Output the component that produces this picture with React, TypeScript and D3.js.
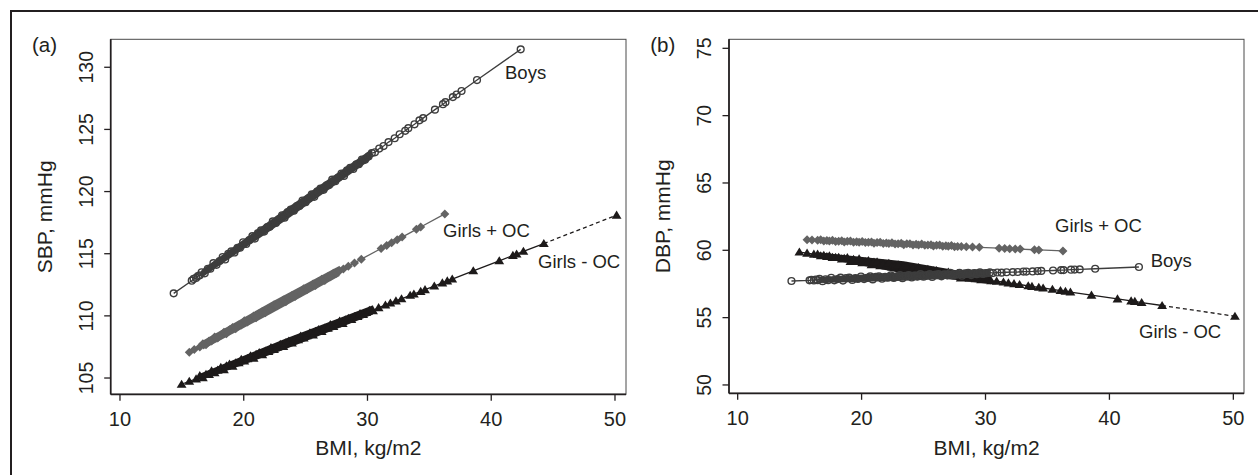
import React from 'react';
import * as d3 from 'd3';

// ---------- data ----------
const boysBMI = [
  14.34, 15.8, 15.95, 16.15, 16.3, 16.45,
  16.6, 16.85, 17.1, 17.3, 17.55, 17.8, 18.05, 18.3, 18.5, 18.75,
  19.0, 19.25, 19.5, 19.7, 19.95, 20.2, 20.45, 20.7, 20.9, 21.15,
  21.4, 21.65, 21.9, 22.1, 22.35, 22.6, 22.85, 23.1, 23.3, 23.55,
  23.8, 24.05, 24.3, 24.5, 24.75, 25.0, 25.25, 25.5, 25.7, 25.95,
  26.2, 26.45, 26.7, 26.9, 27.15, 27.4, 27.65, 27.9, 28.1, 28.35,
  28.6, 28.85, 29.1, 29.3, 29.55, 29.8, 30.1, 30.35,
  30.6, 30.95, 31.3, 31.7, 32.2, 32.6, 33.05, 33.3, 33.8, 34.2, 34.5, 35.45, 36.1, 36.3, 36.9, 37.2, 37.6, 38.85, 42.38,
];
const boysSBP = [
  111.81, 112.83, 112.97, 113.05, 113.2, 113.26,
  113.51, 113.42, 113.79, 113.8, 114.24, 114.11, 114.41, 114.73, 114.54, 114.98,
  115.19, 115.1, 115.47, 115.48, 115.92, 115.79, 116.09, 116.41, 116.22, 116.66,
  116.87, 116.78, 117.15, 117.16, 117.6, 117.47, 117.77, 118.09, 117.9, 118.34,
  118.55, 118.46, 118.83, 118.84, 119.28, 119.15, 119.45, 119.77, 119.58, 120.02,
  120.23, 120.14, 120.51, 120.52, 120.96, 120.83, 121.13, 121.45, 121.26, 121.7,
  121.91, 121.82, 122.19, 122.2, 122.58, 122.55, 122.84, 123.1,
  123.16, 123.46, 123.66, 123.98, 124.29, 124.61, 124.89, 125.1, 125.41, 125.73, 125.91, 126.59, 127.03, 127.19, 127.6, 127.81, 128.09, 128.97, 131.44,
];
const boysDBP = [
  57.72, 57.77, 57.8, 57.76, 57.83, 57.78,
  57.88, 57.71, 57.85, 57.78, 57.96, 57.77, 57.86, 57.97, 57.75, 57.93,
  57.97, 57.8, 57.94, 57.87, 58.05, 57.86, 57.95, 58.06, 57.84, 58.02,
  58.06, 57.89, 58.03, 57.96, 58.14, 57.95, 58.04, 58.15, 57.93, 58.11,
  58.15, 57.98, 58.12, 58.05, 58.23, 58.04, 58.13, 58.23, 58.02, 58.2,
  58.24, 58.07, 58.21, 58.14, 58.32, 58.13, 58.21, 58.32, 58.11, 58.29,
  58.33, 58.16, 58.3, 58.23, 58.36, 58.24, 58.31, 58.36,
  58.31, 58.35, 58.34, 58.37, 58.38, 58.39, 58.42, 58.42, 58.43, 58.46, 58.47, 58.5, 58.53, 58.53, 58.56, 58.57, 58.58, 58.63, 58.76,
];

const girlsOcBMI = [
  15.6, 16.0, 16.45,
  16.7, 16.95, 17.2, 17.4, 17.65, 17.9, 18.15, 18.4, 18.6, 18.85,
  19.1, 19.35, 19.6, 19.8, 20.05, 20.3, 20.55, 20.8, 21.0, 21.25,
  21.5, 21.75, 22.0, 22.2, 22.45, 22.7, 22.95, 23.2, 23.4, 23.65,
  23.9, 24.15, 24.4, 24.6, 24.85, 25.1, 25.35, 25.6, 25.8, 26.05,
  26.3, 26.55, 26.8, 27.0, 27.25, 27.5, 27.75,
  28.05, 28.45, 28.95, 29.5, 31.1, 31.55, 31.95, 32.4, 32.8, 33.95, 34.3, 36.25,
];
const girlsOcSBP = [
  107.07, 107.3, 107.5,
  107.76, 107.68, 107.97, 107.98, 108.3, 108.22, 108.44, 108.69, 108.56, 108.88,
  109.06, 108.97, 109.26, 109.27, 109.6, 109.51, 109.74, 109.98, 109.85, 110.17,
  110.35, 110.26, 110.56, 110.57, 110.89, 110.81, 111.03, 111.28, 111.14, 111.47,
  111.64, 111.56, 111.85, 111.86, 112.18, 112.1, 112.32, 112.57, 112.44, 112.76,
  112.94, 112.85, 113.15, 113.15, 113.43, 113.43, 113.62,
  113.78, 114.0, 114.26, 114.56, 115.42, 115.67, 115.88, 116.12, 116.34, 116.96, 117.15, 118.2,
];
const girlsOcDBP = [
  60.79, 60.77, 60.75,
  60.78, 60.69, 60.73, 60.69, 60.75, 60.66, 60.68, 60.71, 60.62, 60.68,
  60.69, 60.59, 60.63, 60.6, 60.66, 60.57, 60.59, 60.62, 60.52, 60.58,
  60.59, 60.5, 60.54, 60.5, 60.56, 60.47, 60.49, 60.52, 60.42, 60.48,
  60.49, 60.4, 60.44, 60.4, 60.46, 60.37, 60.39, 60.42, 60.32, 60.38,
  60.39, 60.3, 60.34, 60.3, 60.36, 60.27, 60.29,
  60.28, 60.26, 60.24, 60.22, 60.16, 60.14, 60.12, 60.1, 60.09, 60.04, 60.03, 59.95,
];

const girlsNoOcBMI = [
  14.98, 15.6, 16.15,
  16.45, 16.7, 16.95, 17.2, 17.4, 17.65, 17.9, 18.15, 18.4, 18.6,
  18.85, 19.1, 19.35, 19.6, 19.8, 20.05, 20.3, 20.55, 20.8, 21.0,
  21.25, 21.5, 21.75, 22.0, 22.2, 22.45, 22.7, 22.95, 23.2, 23.4,
  23.65, 23.9, 24.15, 24.4, 24.6, 24.85, 25.1, 25.35, 25.6, 25.8,
  26.05, 26.3, 26.55, 26.8, 27.0, 27.25, 27.5, 27.75, 28.0, 28.2,
  28.45, 28.7, 28.95, 29.2, 29.4, 29.65, 29.9, 30.15, 30.45,
  30.9, 31.45, 31.85, 32.3, 32.75, 33.45, 33.75, 34.3, 34.65, 35.4, 36.05, 36.45, 36.85, 38.55, 40.65, 41.75, 42.05, 42.6, 44.25, 50.13,
];
const girlsNoOcSBP = [
  104.5, 104.74, 104.93,
  105.19, 105.02, 105.3, 105.29, 105.58, 105.43, 105.63, 105.85, 105.67, 105.97,
  106.12, 105.95, 106.23, 106.22, 106.51, 106.36, 106.56, 106.78, 106.6, 106.9,
  107.04, 106.88, 107.16, 107.14, 107.44, 107.29, 107.49, 107.71, 107.53, 107.83,
  107.97, 107.81, 108.09, 108.07, 108.37, 108.22, 108.41, 108.64, 108.46, 108.76,
  108.9, 108.74, 109.02, 109.0, 109.3, 109.15, 109.34, 109.57, 109.39, 109.68,
  109.81, 109.71, 109.94, 109.94, 110.18, 110.11, 110.27, 110.45, 110.42,
  110.66, 110.87, 111.03, 111.2, 111.37, 111.65, 111.76, 111.97, 112.11, 112.4, 112.65, 112.81, 112.96, 113.62, 114.43, 114.86, 114.97, 115.19, 115.82, 118.1,
];
const girlsNoOcDBP = [
  59.87, 59.79, 59.71,
  59.71, 59.59, 59.62, 59.54, 59.59, 59.47, 59.47, 59.48, 59.36, 59.41,
  59.46, 59.17, 59.32, 59.17, 59.37, 59.08, 59.15, 59.24, 58.93, 59.12,
  59.14, 58.85, 58.99, 58.85, 59.04, 58.76, 58.82, 58.92, 58.6, 58.8,
  58.81, 58.52, 58.67, 58.52, 58.71, 58.43, 58.5, 58.59, 58.28, 58.47,
  58.49, 58.19, 58.34, 58.2, 58.39, 58.11, 58.17, 58.27, 57.95, 58.15,
  58.12, 57.93, 58.0, 57.89, 57.99, 57.82, 57.85, 57.86, 57.73,
  57.71, 57.64, 57.58, 57.52, 57.46, 57.36, 57.32, 57.25, 57.2, 57.1, 57.01, 56.96, 56.9, 56.67, 56.39, 56.24, 56.2, 56.12, 55.9, 55.1,
];

// Envelope (lower / upper edge) of the densely overplotted part of each band
const boysBandBMI = [16.6, 23.5, 30.35];
const boysBandSBPLo = [113.07, 117.76, 122.62];
const boysBandSBPHi = [113.71, 118.68, 123.42];
const boysBandDBPLo = [57.58, 57.74, 58.01];
const boysBandDBPHi = [58.02, 58.38, 58.61];
const girlsOcBandBMI = [16.7, 22.2, 27.75];
const girlsOcBandSBPLo = [107.3, 110.17, 113.2];
const girlsOcBandSBPHi = [108.02, 111.09, 114.04];
const girlsOcBandDBPLo = [60.55, 60.32, 60.1];
const girlsOcBandDBPHi = [60.93, 60.72, 60.48];
const girlsNoOcBandBMI = [16.45, 23.4, 30.45];
const girlsNoOcBandSBPLo = [104.79, 107.34, 110.1];
const girlsNoOcBandSBPHi = [105.35, 108.18, 110.86];
const girlsNoOcBandDBPLo = [59.49, 58.28, 57.47];
const girlsNoOcBandDBPHi = [59.85, 59.18, 58.07];

const xTicks = [10, 20, 30, 40, 50];
const sbpTicks = [105, 110, 115, 120, 125, 130];
const dbpTicks = [50, 55, 60, 65, 70, 75];
const seriesNames = ['Boys', 'Girls + OC', 'Girls - OC'];

// ---------- styling ----------
const W = 1258;
const H = 475;
const INK = '#231f20';
const FONT = '"Liberation Sans", Arial, Helvetica, sans-serif';
const COL_BOYS = '#3d3d3d';
const COL_OC = '#636363';
const COL_NOOC = '#1d1a1a';

type Pt = { x: number; y: number };
type Bd = { x: number; lo: number; hi: number };
const zip = (xs: number[], ys: number[]): Pt[] => xs.map((x, i) => ({ x, y: ys[i] }));
const zipBand = (xs: number[], lo: number[], hi: number[]): Bd[] =>
  xs.map((x, i) => ({ x, lo: lo[i], hi: hi[i] }));

const DIAMOND = 'M0,-4.5L4.5,0L0,4.5L-4.5,0Z';
const TRIANGLE = 'M0,-4.6L4.9,3.5L-4.9,3.5Z';

type PanelCfg = {
  tag: string;
  left: number; right: number; top: number; bottom: number;
  xDom: [number, number]; yDom: [number, number];
  yTicks: number[]; yTitle: string;
  boys: number[]; oc: number[]; noOc: number[];
  boysBand: Bd[]; ocBand: Bd[]; noOcBand: Bd[];
  labels: { text: string; dx: number; dy: number }[];
};

const panels: PanelCfg[] = [
  {
    tag: '(a)', left: 110.7, right: 626, top: 39.3, bottom: 394.3,
    xDom: [9.25, 50.89], yDom: [103.69, 132.25], yTicks: sbpTicks, yTitle: 'SBP, mmHg',
    boys: boysSBP, oc: girlsOcSBP, noOc: girlsNoOcSBP,
    boysBand: zipBand(boysBandBMI, boysBandSBPLo, boysBandSBPHi),
    ocBand: zipBand(girlsOcBandBMI, girlsOcBandSBPLo, girlsOcBandSBPHi),
    noOcBand: zipBand(girlsNoOcBandBMI, girlsNoOcBandSBPLo, girlsNoOcBandSBPHi),
    labels: [
      { text: seriesNames[0], dx: 394.3, dy: 40 },
      { text: seriesNames[1], dx: 332.3, dy: 198 },
      { text: seriesNames[2], dx: 427.3, dy: 229 },
    ],
  },
  {
    tag: '(b)', left: 729, right: 1244, top: 39.3, bottom: 393.3,
    xDom: [9.3, 50.86], yDom: [49.38, 75.67], yTicks: dbpTicks, yTitle: 'DBP, mmHg',
    boys: boysDBP, oc: girlsOcDBP, noOc: girlsNoOcDBP,
    boysBand: zipBand(boysBandBMI, boysBandDBPLo, boysBandDBPHi),
    ocBand: zipBand(girlsOcBandBMI, girlsOcBandDBPLo, girlsOcBandDBPHi),
    noOcBand: zipBand(girlsNoOcBandBMI, girlsNoOcBandDBPLo, girlsNoOcBandDBPHi),
    labels: [
      { text: seriesNames[1], dx: 326, dy: 192.4 },
      { text: seriesNames[0], dx: 421.7, dy: 228 },
      { text: seriesNames[2], dx: 410, dy: 299 },
    ],
  },
];

function Panel({ p }: { p: PanelCfg }) {
  const x = d3.scaleLinear().domain(p.xDom).range([p.left, p.right]);
  const y = d3.scaleLinear().domain(p.yDom).range([p.bottom, p.top]);
  const line = d3.line<Pt>().x(d => x(d.x)).y(d => y(d.y));
  const area = d3.area<Bd>().x(d => x(d.x)).y0(d => y(d.lo)).y1(d => y(d.hi));

  const boys = zip(boysBMI, p.boys);
  const oc = zip(girlsOcBMI, p.oc);
  const noOc = zip(girlsNoOcBMI, p.noOc);
  const noOcSolid = noOc.slice(0, noOc.length - 1);
  const noOcDash = noOc.slice(noOc.length - 2);

  const midY = (p.top + p.bottom) / 2;
  const midX = (p.left + p.right) / 2;

  return (
    <g>
      {/* plot box */}
      <rect x={p.left} y={p.top} width={p.right - p.left} height={p.bottom - p.top}
        fill="none" stroke="#4a4a4a" strokeWidth={1} />
      <line x1={p.left} x2={p.left} y1={p.top} y2={p.bottom} stroke={INK} strokeWidth={1.7} />
      <line x1={p.left} x2={p.right} y1={p.bottom} y2={p.bottom} stroke={INK} strokeWidth={1.7} />

      {/* y ticks */}
      {p.yTicks.map(t => (
        <g key={'y' + t}>
          <line x1={p.left - 6.5} x2={p.left} y1={y(t)} y2={y(t)} stroke={INK} strokeWidth={1.3} />
          <text transform={`translate(${p.left - 18},${y(t)}) rotate(-90)`} textAnchor="middle"
            fontSize={19.5} fill={INK} fontFamily={FONT}>{t}</text>
        </g>
      ))}
      {/* x ticks */}
      {xTicks.map(t => (
        <g key={'x' + t}>
          <line x1={x(t)} x2={x(t)} y1={p.bottom} y2={p.bottom + 6.5} stroke={INK} strokeWidth={1.3} />
          <text x={x(t)} y={p.bottom + 31.7} textAnchor="middle" fontSize={20} fill={INK}
            fontFamily={FONT}>{t}</text>
        </g>
      ))}

      {/* titles */}
      <text x={midX} y={455} textAnchor="middle" fontSize={21} fill={INK} fontFamily={FONT}>BMI, kg/m2</text>
      <text transform={`translate(${p.left - 59},${midY}) rotate(-90)`} textAnchor="middle"
        fontSize={21} fill={INK} fontFamily={FONT}>{p.yTitle}</text>
      <text x={p.left - 78.7} y={51.5} fontSize={20.5} fill={INK} fontFamily={FONT}>{p.tag}</text>

      {/* Girls - OC */}
      <path d={line(noOcSolid) || ''} fill="none" stroke={COL_NOOC} strokeWidth={1.3} />
      <path d={line(noOcDash) || ''} fill="none" stroke={COL_NOOC} strokeWidth={1.3} strokeDasharray="4 3" />
      <path d={area(p.noOcBand) || ''} fill={COL_NOOC} />
      {noOc.map((d, i) => (
        <path key={'n' + i} d={TRIANGLE} transform={`translate(${x(d.x)},${y(d.y)})`} fill={COL_NOOC} />
      ))}

      {/* Girls + OC */}
      <path d={line(oc) || ''} fill="none" stroke={COL_OC} strokeWidth={1.3} />
      <path d={area(p.ocBand) || ''} fill={COL_OC} />
      {oc.map((d, i) => (
        <path key={'o' + i} d={DIAMOND} transform={`translate(${x(d.x)},${y(d.y)})`} fill={COL_OC} />
      ))}

      {/* Boys */}
      <path d={line(boys) || ''} fill="none" stroke={COL_BOYS} strokeWidth={1.3} />
      <path d={area(p.boysBand) || ''} fill={COL_BOYS} />
      {boys.map((d, i) => (
        <circle key={'b' + i} cx={x(d.x)} cy={y(d.y)} r={3.4} fill="none" stroke={COL_BOYS} strokeWidth={1.4} />
      ))}

      {/* series labels */}
      {p.labels.map(l => (
        <text key={l.text} x={p.left + l.dx} y={p.top + l.dy} fontSize={18.5} fill={INK}
          fontFamily={FONT}>{l.text}</text>
      ))}
    </g>
  );
}

export default function App() {
  return (
    <svg width={W} height={H} viewBox={`0 0 ${W} ${H}`}
      style={{ position: 'absolute', left: 0, top: 0, background: '#fff' }}>
      <rect x={0} y={0} width={W} height={H} fill="#fff" />
      <rect x={11} y={11} width={1300} height={700} fill="none" stroke={INK} strokeWidth={2} />
      {panels.map(p => <Panel key={p.tag} p={p} />)}
    </svg>
  );
}
